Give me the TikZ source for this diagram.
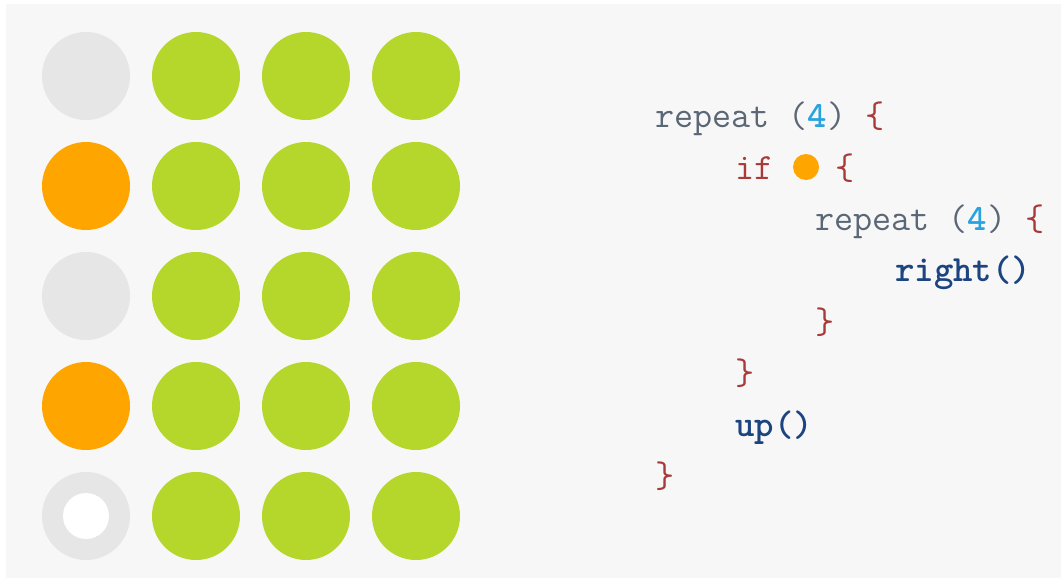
\documentclass[tikz,border=0pt]{standalone}
\usepackage{fontspec}
\definecolor{bgc}{HTML}{F7F7F7}
\definecolor{greyc}{HTML}{E6E6E6}
\definecolor{greenc}{HTML}{B5D62B}
\definecolor{orangec}{HTML}{FFA500}
\definecolor{kwc}{HTML}{5B6775}
\definecolor{numc}{HTML}{29A3E0}
\definecolor{bracec}{HTML}{A83A3A}
\definecolor{fnc}{HTML}{1C4480}
\tikzset{
  dot/.style={circle,inner sep=0pt,minimum size=88pt,fill=#1},
  code/.style={anchor=base west,inner sep=0pt,font=\ttfamily\fontsize{37}{37}\selectfont}
}
\newcommand{\kw}[1]{\textcolor{kwc}{#1}}
\newcommand{\num}[1]{\textcolor{numc}{\bfseries #1}}
\newcommand{\br}[1]{\textcolor{bracec}{#1}}
\newcommand{\fn}[1]{\textcolor{fnc}{\bfseries #1}}
\begin{document}
\begin{tikzpicture}[x=1pt,y=-1pt]
\useasboundingbox (0,0) rectangle (1061,581);
\fill[white] (0,0) rectangle (1061,581);
\fill[bgc] (6,4) rectangle (1061,578);
% board
\foreach \r/\c in {1/greyc,2/orangec,3/greyc,4/orangec,5/greyc}
\node[dot=\c] (dot-\r-1) at (86,{76+110*(\r-1)}) {};
\foreach \r in {1,...,5}
\foreach \k in {2,3,4}
\node[dot=greenc] (dot-\r-\k) at ({86+110*(\k-1)},{76+110*(\r-1)}) {};
\node[circle,inner sep=0pt,minimum size=46pt,fill=white] (start) at (dot-5-1) {};
% program
\node[code] (l1) at (655,127) {\kw{repeat (}\num{4}\kw{) }\br{\{}};
\node[code] (l2) at (735,179) {\br{if}};
\node[circle,inner sep=0pt,minimum size=26pt,fill=orangec] (cond) at (806,167) {};
\node[code] (l2b) at (835,179) {\br{\{}};
\node[code] (l3) at (815,230) {\kw{repeat (}\num{4}\kw{) }\br{\{}};
\node[code] (l4) at (895,281) {\fn{right()}};
\node[code] (l5) at (815,333) {\br{\}}};
\node[code] (l6) at (735,384) {\br{\}}};
\node[code] (l7) at (735,436) {\fn{up()}};
\node[code] (l8) at (655,487) {\br{\}}};
\end{tikzpicture}
\end{document}
